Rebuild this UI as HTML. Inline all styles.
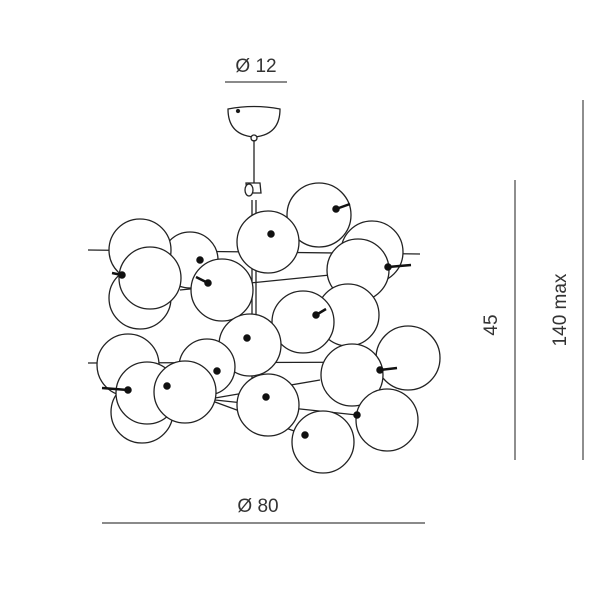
<!DOCTYPE html>
<html><head><style>body{margin:0;background:#fff}svg{display:block}</style></head><body>
<svg width="600" height="600" viewBox="0 0 600 600" xmlns="http://www.w3.org/2000/svg" font-family="Liberation Sans Narrow, Liberation Sans, sans-serif">
<rect width="600" height="600" fill="#fff"/>
<text x="256" y="72" font-size="19" text-anchor="middle" fill="#333">Ø 12</text>
<line x1="225" y1="82" x2="287" y2="82" stroke="#444" stroke-width="1.2"/>
<text x="258" y="512" font-size="19" text-anchor="middle" fill="#333">Ø 80</text>
<line x1="102" y1="523" x2="425" y2="523" stroke="#444" stroke-width="1.2"/>
<line x1="515" y1="180" x2="515" y2="460" stroke="#444" stroke-width="1.2"/>
<text transform="translate(497,325) rotate(-90)" font-size="19" text-anchor="middle" fill="#333">45</text>
<line x1="583" y1="100" x2="583" y2="460" stroke="#444" stroke-width="1.2"/>
<text transform="translate(566,310) rotate(-90)" font-size="19" text-anchor="middle" fill="#333">140 max</text>
<g stroke="#222" stroke-width="1.3" fill="#fff">
<path d="M228,109 Q254,104 280,109 Q280,135 254,137 Q228,135 228,109Z"/>
<circle cx="238" cy="111" r="1.5" fill="#111"/>
<circle cx="254" cy="138" r="3"/>
<line x1="254" y1="140" x2="254" y2="185"/>
<path d="M246,183 h14 l1,10 h-14z"/>
<ellipse cx="249" cy="190" rx="4" ry="6"/>
<line x1="252" y1="200" x2="252" y2="432"/><line x1="256" y1="200" x2="256" y2="432"/>
<line x1="88" y1="250" x2="420" y2="254"/>
<line x1="88" y1="363" x2="420" y2="362"/>
<line x1="215" y1="400" x2="357" y2="415"/>
<line x1="215" y1="402" x2="305" y2="435"/>
<line x1="215" y1="398" x2="320" y2="380"/>
<line x1="180" y1="290" x2="330" y2="275"/>
</g>
<g stroke="#222" stroke-width="1.3" fill="#fff">
<circle cx="372" cy="252" r="31"/>
<circle cx="319" cy="215" r="32"/>
<circle cx="190" cy="260" r="28"/>
<circle cx="140" cy="250" r="31"/>
<circle cx="140" cy="298" r="31"/>
<circle cx="150" cy="278" r="31"/>
<circle cx="268" cy="242" r="31"/>
<circle cx="358" cy="270" r="31"/>
<circle cx="222" cy="290" r="31"/>
<circle cx="348" cy="315" r="31"/>
<circle cx="303" cy="322" r="31"/>
<circle cx="250" cy="345" r="31"/>
<circle cx="128" cy="365" r="31"/>
<circle cx="408" cy="358" r="32"/>
<circle cx="207" cy="367" r="28"/>
<circle cx="352" cy="375" r="31"/>
<circle cx="268" cy="405" r="31"/>
<circle cx="142" cy="412" r="31"/>
<circle cx="147" cy="393" r="31"/>
<circle cx="185" cy="392" r="31"/>
<circle cx="387" cy="420" r="31"/>
<circle cx="323" cy="442" r="31"/>
</g>
<g stroke="#111" stroke-width="2.5" fill="#111">
<line x1="336" y1="209" x2="350" y2="204"/><circle cx="336" cy="209" r="2.5"/>
<circle cx="271" cy="234" r="2.5"/>
<line x1="388" y1="267" x2="411" y2="265"/><circle cx="388" cy="267" r="2.5"/>
<line x1="208" y1="283" x2="196" y2="277"/><circle cx="208" cy="283" r="2.5"/>
<line x1="316" y1="315" x2="326" y2="309"/><circle cx="316" cy="315" r="2.5"/>
<circle cx="247" cy="338" r="2.5"/>
<line x1="380" y1="370" x2="397" y2="368"/><circle cx="380" cy="370" r="2.5"/>
<circle cx="167" cy="386" r="2.5"/>
<line x1="128" y1="390" x2="102" y2="388"/><circle cx="128" cy="390" r="2.5"/>
<circle cx="217" cy="371" r="2.5"/>
<circle cx="266" cy="397" r="2.5"/>
<circle cx="357" cy="415" r="2.5"/>
<circle cx="305" cy="435" r="2.5"/>
<line x1="122" y1="275" x2="112" y2="273"/><circle cx="122" cy="275" r="2.5"/>
<circle cx="200" cy="260" r="2.5"/>
</g>
</svg>
</body></html>
